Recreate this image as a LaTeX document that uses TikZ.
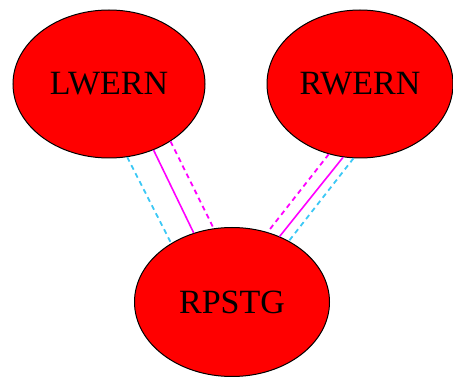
\documentclass[tikz,border=0pt]{standalone}
\usepackage{fontspec}
\setmainfont{Liberation Serif}
\usepackage{tikz}
\usetikzlibrary{shapes.geometric}
\usepackage{xcolor}
\definecolor{ColA}{RGB}{255,0,0}
\definecolor{ColB}{RGB}{255,0,255}
\definecolor{ColC}{RGB}{60,200,245}
\tikzstyle{NodeGene}=[ellipse,draw=black,fill=ColA,inner sep=0pt,line width=1pt,
font=\fontsize{34}{34}\selectfont]
\tikzstyle{EdgeSolid}=[ColB,line width=1.6pt]
\tikzstyle{EdgeDashB}=[ColB,line width=1.8pt,dash pattern=on 5pt off 4pt]
\tikzstyle{EdgeDashC}=[ColC,line width=1.8pt,dash pattern=on 5pt off 4pt]

\begin{document}
\begin{tikzpicture}[x=1pt,y=-1pt]
        \useasboundingbox(0,0)rectangle(453,382);
        \node[NodeGene,minimum width=192,minimum height=148](lw)at(109,84){LWERN};
        \node[NodeGene,minimum width=186,minimum height=148](rw)at(360,84){RWERN};
        \node[NodeGene,minimum width=195,minimum height=149](rp)at(232,302){RPSTG};
        \draw[EdgeDashC](lw.-76)--(rp.136);
        \draw[EdgeSolid](lw.-56)--(rp.119);
        \draw[EdgeDashB](lw.-43)--(rp.104);
        \draw[EdgeDashB](rw.-114)--(rp.63);
        \draw[EdgeSolid](rw.-103)--(rp.54);
        \draw[EdgeDashC](rw.-95)--(rp.47);
    \end{tikzpicture}
\end{document}
